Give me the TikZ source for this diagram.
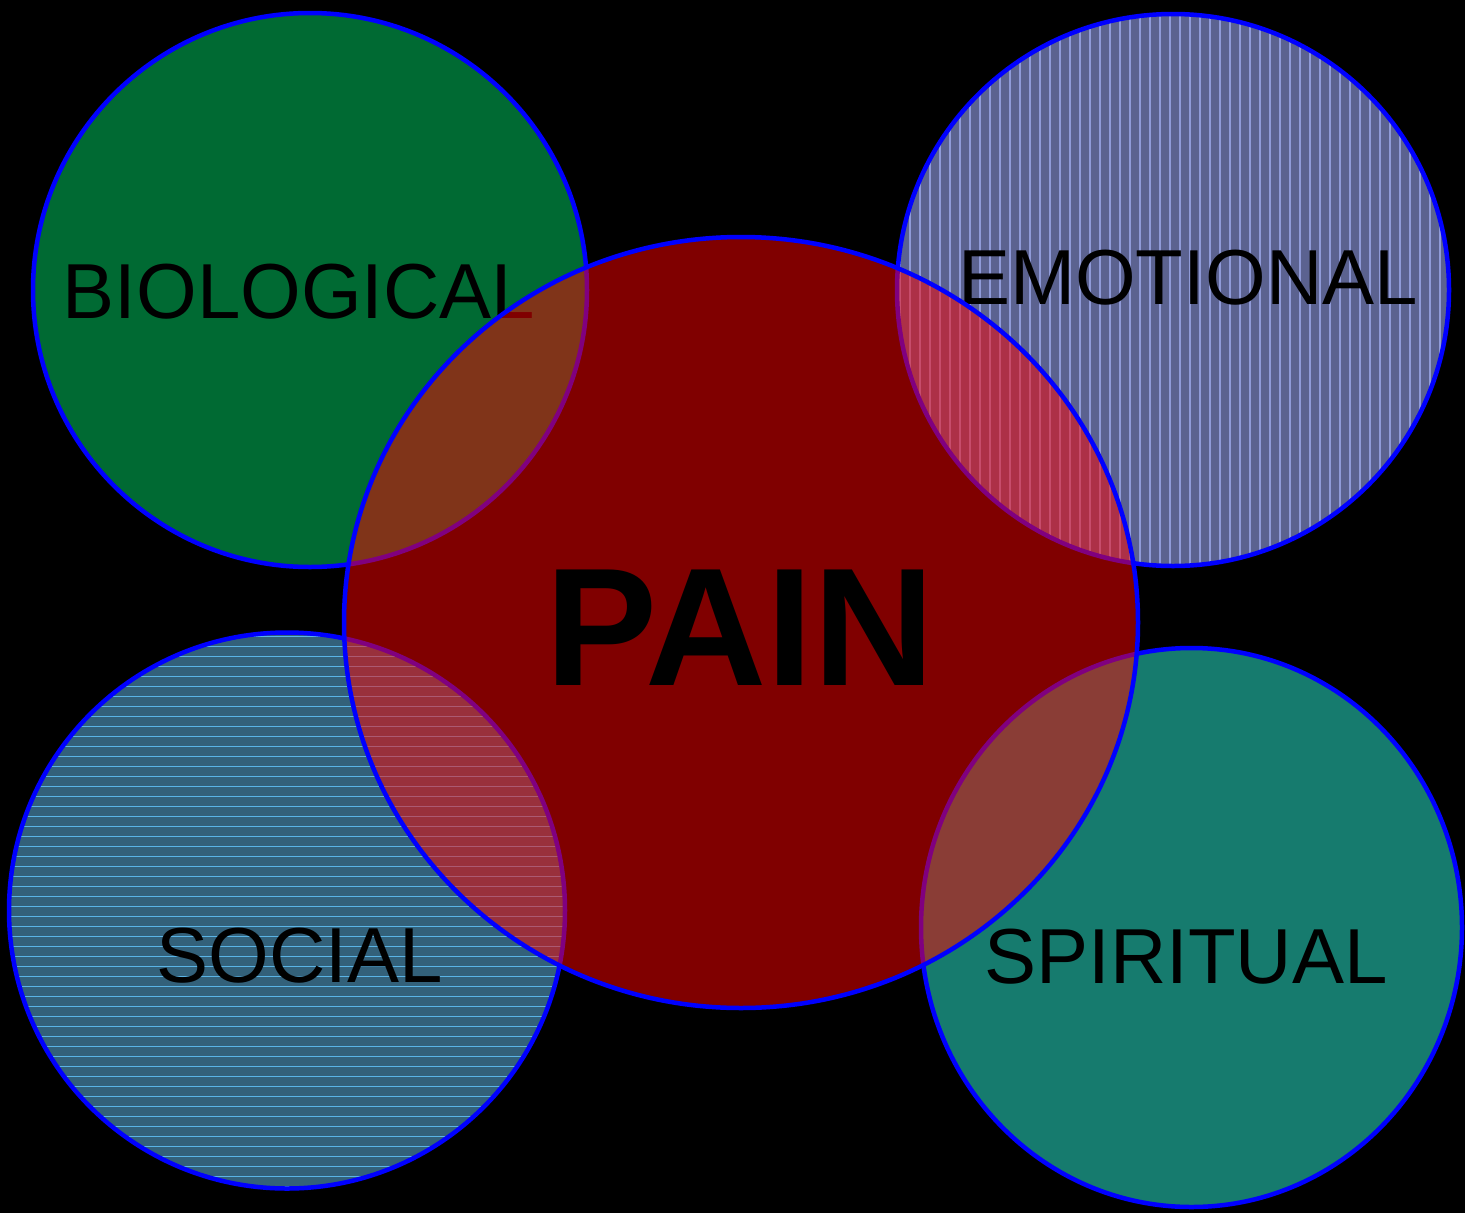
\documentclass[tikz,border=0pt]{standalone}
\usepackage{fontspec}
\setmainfont{Liberation Sans}
\usetikzlibrary{shapes.geometric}
\definecolor{biocol}{HTML}{006A33}
\definecolor{emocol}{HTML}{5B6290}
\definecolor{emoline}{HTML}{8F9AD8}
\definecolor{soccol}{HTML}{33617A}
\definecolor{socline}{HTML}{5AB4E6}
\definecolor{spicol}{HTML}{167B6E}
\tikzset{
  ring/.style={draw=blue, line width=4.5pt, inner sep=0pt, outer sep=0pt},
  lbl/.style={font=\fontsize{78}{80}\selectfont, text=black, anchor=base, inner sep=0pt},
  vstripes/.style={path picture={
      \foreach \i in {0,...,57}
        \draw[emoline, line width=1.1pt]
          ([xshift=\i*10pt+3pt]path picture bounding box.north west) --
          ([xshift=\i*10pt+3pt]path picture bounding box.south west);}},
  hstripes/.style={path picture={
      \foreach \i in {0,...,57}
        \draw[socline, line width=1.2pt]
          ([yshift=-\i*10pt-4pt]path picture bounding box.north west) --
          ([yshift=-\i*10pt-4pt]path picture bounding box.north east);}},
}
\begin{document}
\begin{tikzpicture}[x=1pt,y=-1pt]
\fill[black] (0,0) rectangle (1465,1213);
\useasboundingbox (0,0) rectangle (1465,1213);

\node[ring, circle, minimum size=554pt, fill=biocol] (bio) at (310,290) {};
\node[lbl] (biolbl) at (299,318) {BIOLOGICAL};

\node[ring, circle, minimum size=552pt, fill=emocol, vstripes] (emo) at (1173,290) {};
\node[lbl] (emolbl) at (1188,304) {EMOTIONAL};

\node[ring, circle, minimum size=556pt, fill=soccol, hstripes] (soc) at (287,910.5) {};
\node[lbl] (soclbl) at (300,982) {SOCIAL};

\node[ring, ellipse, minimum width=541pt, minimum height=559pt, fill=spicol] (spi) at (1191.5,927.5) {};
\node[lbl] (spilbl) at (1186,983) {SPIRITUAL};

\node[ring, ellipse, minimum width=794pt, minimum height=771pt, fill=red, fill opacity=0.5, draw opacity=1] (pain) at (741,622.5) {};
\node[font=\bfseries\fontsize{168}{170}\selectfont, text=black, anchor=base, inner sep=0pt] (painlbl) at (740,685) {PAIN};
\end{tikzpicture}
\end{document}
